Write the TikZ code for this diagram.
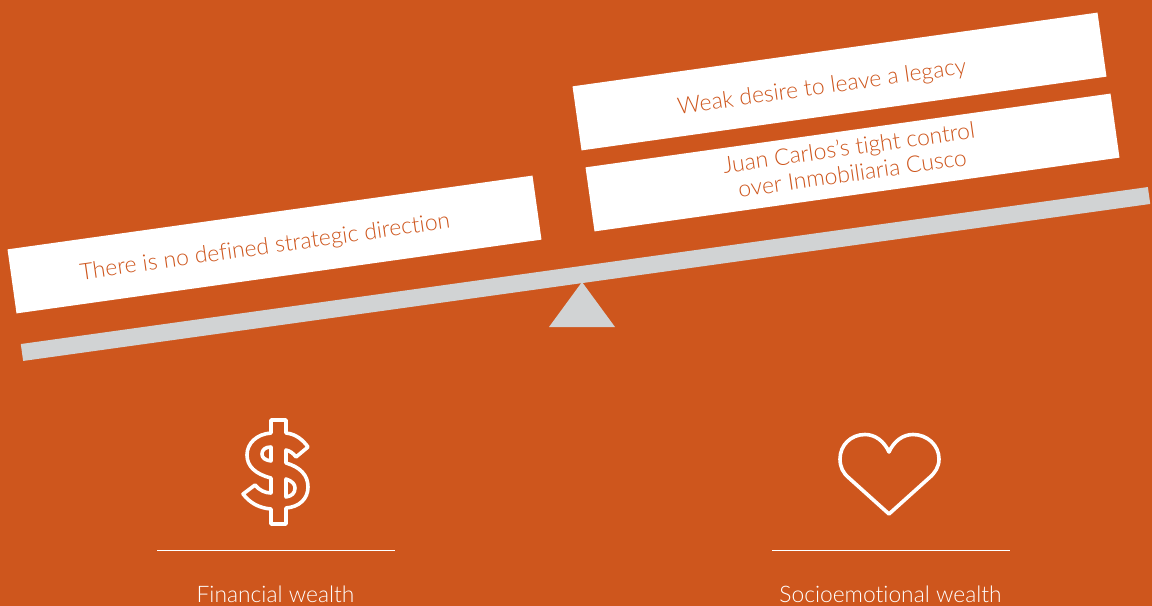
\documentclass[tikz,border=0pt]{standalone}
\usepackage{fontspec}
\setmainfont[Ligatures=NoCommon]{Lato Light}
\definecolor{bgc}{HTML}{CE561D}
\definecolor{beamc}{HTML}{D1D3D4}
\tikzstyle{balance} = [
  x=0.75pt,
  y=-0.75pt,
  line join=round,
]
\tikzstyle{factbox} = [
  fill=white,
  minimum width=397.6pt,
  minimum height=48.5pt,
  rotate=8,
]
\tikzstyle{facttext} = [
  text=bgc,
  font=\fontsize{17.2}{19.5}\selectfont,
  align=center,
  rotate=8,
]
\tikzstyle{icon} = [
  draw=white,
  line width=2.7pt,
]
\tikzstyle{wealth} = [
  text=white,
  font=\fontsize{17.1}{18}\selectfont,
]

\begin{document}
\begin{tikzpicture}[balance]
      \useasboundingbox[fill=bgc] (0,0) rectangle (1152,606);

      % Beam
      \node[fill=beamc, minimum width=853.5pt, minimum height=12.8pt, rotate=7.93] (beam) at (585.5,274) {};
      \fill[beamc] (582,282) -- (615,327) -- (549,327) -- cycle;

      % Boxes
      \node[factbox] (direction) at (274.5,244.5) {};
      \node[factbox] (legacy) at (839.5,81.5) {};
      \node[factbox] (control) at (852.5,162.5) {};

      % Box texts
      \node[facttext] (directiontext) at (265,248) {There is no defined strategic direction};
      \node[facttext] (legacytext) at (822,88) {Weak desire to leave a legacy};
      \node[facttext] (controltext) at (850.5,160) {Juan Carlos's tight control\\over Inmobiliaria Cusco};

      % Dollar
      \draw[icon] (271,420) -- (286,420) -- (286,433)
        .. controls (296,434) and (303,440) .. (308,447)
        -- (296,457) .. controls (293,453) and (290,451) .. (286,450)
        -- (286,463) .. controls (300,467) and (308,475) .. (308,487)
        .. controls (308,499) and (299,507) .. (286,508)
        -- (286,524) -- (271,524) -- (271,509)
        .. controls (259,508) and (250,503) .. (243,494)
        -- (255,485) .. controls (259,490) and (265,493) .. (271,493)
        -- (271,478) .. controls (255,474) and (247,466) .. (247,455)
        .. controls (247,443) and (257,434) .. (271,433) -- cycle;
      \draw[icon] (271,447) .. controls (265,447) and (262,450) .. (262,454)
        .. controls (262,458) and (265,460) .. (271,461) -- cycle;
      \draw[icon] (286,479) .. controls (292,481) and (295,484) .. (295,488)
        .. controls (295,493) and (292,496) .. (286,497) -- cycle;

      % Heart
      \draw[icon] (889,514) -- (849,478)
        .. controls (843,473) and (840,467) .. (840,459)
        .. controls (840,445) and (851,434.5) .. (865,434.5)
        .. controls (875,434.5) and (884,441) .. (889,452)
        .. controls (894,441) and (903,434.5) .. (913,434.5)
        .. controls (927,434.5) and (939,445) .. (939,459)
        .. controls (939,467) and (935,473) .. (929,478)
        -- cycle;

      % Rules
      \coordinate (finl) at (157,550);
      \coordinate (finr) at (395,550);
      \coordinate (socl) at (772,550);
      \coordinate (socr) at (1010,550);
      \draw[white, line width=0.7pt] (finl) -- (finr);
      \draw[white, line width=0.7pt] (socl) -- (socr);

      % Labels
      \node[wealth] (financial) at (275.5,594) {Financial wealth};
      \node[wealth] (socio) at (890.5,594) {Socioemotional wealth};
    \end{tikzpicture}
\end{document}
